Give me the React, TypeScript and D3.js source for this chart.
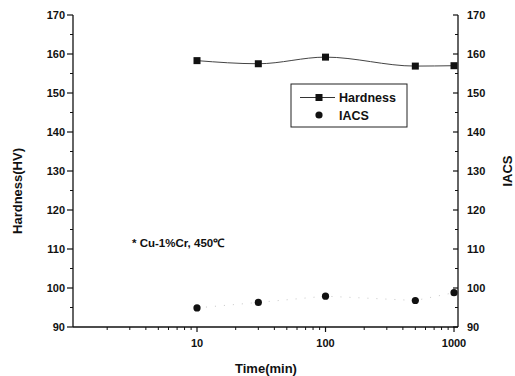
import { useEffect, useRef } from 'react';
import * as d3 from 'd3';

// time in minutes
const times = [10, 30, 100, 500, 1000];
const hardness = [158.3, 157.5, 159.2, 156.9, 157.0];
const iacs = [94.9, 96.3, 97.9, 96.8, 98.8];
const yTicks = [90, 100, 110, 120, 130, 140, 150, 160, 170];
const xTicks = [10, 100, 1000];
const legendItems = ['Hardness', 'IACS'];
const note = '* Cu-1%Cr, 450\u2103';

const FONT = 'Arial, "Liberation Sans", sans-serif';

export default function App() {
  const svgRef = useRef<SVGSVGElement>(null);
  const width = 515;
  const height = 376;

  useEffect(() => {
    if (!svgRef.current) return;
    const svg = d3.select(svgRef.current);
    svg.selectAll('*').remove();

    const left = 73;
    const right = 458;
    const top = 15;
    const bottom = 327;

    const x = d3.scaleLog().domain([1.084, 1074]).range([left, right]);
    const y = d3.scaleLinear().domain([90, 170]).range([bottom, top]);

    const g = svg.append('g');

    // minor ticks
    const minorX: number[] = [];
    [1, 10, 100].forEach((dec) => {
      for (let k = 2; k <= 9; k++) {
        const v = dec * k;
        if (v > x.domain()[0] && v < x.domain()[1]) minorX.push(v);
      }
    });
    const minorY = d3.range(95, 170, 10);

    // bottom axis
    g.append('line')
      .attr('x1', left).attr('x2', right)
      .attr('y1', bottom).attr('y2', bottom)
      .attr('stroke', '#111').attr('stroke-width', 1.3);
    g.selectAll('.xmin').data(minorX).enter().append('line')
      .attr('x1', (d) => x(d)).attr('x2', (d) => x(d))
      .attr('y1', bottom).attr('y2', bottom + 3)
      .attr('stroke', '#111');
    g.selectAll('.xmaj').data(xTicks).enter().append('line')
      .attr('x1', (d) => x(d)).attr('x2', (d) => x(d))
      .attr('y1', bottom).attr('y2', bottom + 5)
      .attr('stroke', '#111').attr('stroke-width', 1.2);
    g.selectAll('.xlab').data(xTicks).enter().append('text')
      .attr('x', (d) => x(d)).attr('y', bottom + 20)
      .attr('text-anchor', 'middle')
      .attr('font-family', FONT).attr('font-size', 11).attr('font-weight', 'bold')
      .attr('fill', '#111')
      .text((d) => String(d));

    // left axis
    g.append('line')
      .attr('x1', left).attr('x2', left)
      .attr('y1', top).attr('y2', bottom)
      .attr('stroke', '#111').attr('stroke-width', 1.3);
    g.selectAll('.lmin').data(minorY).enter().append('line')
      .attr('x1', left - 3).attr('x2', left)
      .attr('y1', (d) => y(d)).attr('y2', (d) => y(d))
      .attr('stroke', '#111');
    g.selectAll('.lmaj').data(yTicks).enter().append('line')
      .attr('x1', left - 6).attr('x2', left)
      .attr('y1', (d) => y(d)).attr('y2', (d) => y(d))
      .attr('stroke', '#111').attr('stroke-width', 1.2);
    g.selectAll('.llab').data(yTicks).enter().append('text')
      .attr('x', left - 8).attr('y', (d) => y(d) + 4)
      .attr('text-anchor', 'end')
      .attr('font-family', FONT).attr('font-size', 11).attr('font-weight', 'bold')
      .attr('fill', '#111')
      .text((d) => String(d));

    // right axis
    g.append('line')
      .attr('x1', right).attr('x2', right)
      .attr('y1', top).attr('y2', bottom)
      .attr('stroke', '#111').attr('stroke-width', 1.3);
    g.selectAll('.rmin').data(minorY).enter().append('line')
      .attr('x1', right - 3).attr('x2', right)
      .attr('y1', (d) => y(d)).attr('y2', (d) => y(d))
      .attr('stroke', '#111');
    g.selectAll('.rmaj').data(yTicks).enter().append('line')
      .attr('x1', right - 5).attr('x2', right)
      .attr('y1', (d) => y(d)).attr('y2', (d) => y(d))
      .attr('stroke', '#111').attr('stroke-width', 1.2);
    g.selectAll('.rlab').data(yTicks).enter().append('text')
      .attr('x', right + 9).attr('y', (d) => y(d) + 4)
      .attr('text-anchor', 'start')
      .attr('font-family', FONT).attr('font-size', 11).attr('font-weight', 'bold')
      .attr('fill', '#111')
      .text((d) => String(d));

    // axis titles
    g.append('text')
      .attr('transform', `translate(22,${(top + bottom) / 2 + 20}) rotate(-90)`)
      .attr('text-anchor', 'middle')
      .attr('font-family', FONT).attr('font-size', 13).attr('font-weight', 'bold')
      .attr('fill', '#111')
      .text('Hardness(HV)');
    g.append('text')
      .attr('transform', `translate(512,${(top + bottom) / 2}) rotate(-90)`)
      .attr('text-anchor', 'middle')
      .attr('font-family', FONT).attr('font-size', 13).attr('font-weight', 'bold')
      .attr('fill', '#111')
      .text('IACS');
    g.append('text')
      .attr('x', 266).attr('y', 373)
      .attr('text-anchor', 'middle')
      .attr('font-family', FONT).attr('font-size', 13).attr('font-weight', 'bold')
      .attr('fill', '#111')
      .text('Time(min)');

    // hardness line
    const pts: [number, number][] = times.map((t, i) => [x(t), y(hardness[i])]);
    const line = d3.line().curve(d3.curveMonotoneX);
    g.append('path')
      .attr('d', line(pts) || '')
      .attr('fill', 'none')
      .attr('stroke', '#444')
      .attr('stroke-width', 1);
    g.selectAll('.hpt').data(times).enter().append('rect')
      .attr('x', (d) => x(d) - 3.5)
      .attr('y', (d, i) => y(hardness[i]) - 3.5)
      .attr('width', 7).attr('height', 7)
      .attr('fill', '#111');

    // IACS faint connector
    const ipts: [number, number][] = times.map((t, i) => [x(t), y(iacs[i])]);
    g.append('path')
      .attr('d', d3.line()(ipts) || '')
      .attr('fill', 'none')
      .attr('stroke', '#c8c8c8')
      .attr('stroke-width', 1)
      .attr('stroke-dasharray', '1,8');
    g.selectAll('.ipt').data(times).enter().append('circle')
      .attr('cx', (d) => x(d))
      .attr('cy', (d, i) => y(iacs[i]))
      .attr('r', 3.6)
      .attr('fill', '#111');

    // legend
    const lg = g.append('g');
    lg.append('rect')
      .attr('x', 291).attr('y', 84).attr('width', 116).attr('height', 43)
      .attr('fill', 'white').attr('stroke', '#222').attr('stroke-width', 1);
    legendItems.forEach((name, i) => {
      const ly = 97.5 + i * 17.5;
      if (i === 0) {
        lg.append('line')
          .attr('x1', 300).attr('x2', 335).attr('y1', ly).attr('y2', ly)
          .attr('stroke', '#333').attr('stroke-width', 1);
        lg.append('rect')
          .attr('x', 319 - 3.5).attr('y', ly - 3.5).attr('width', 7).attr('height', 7)
          .attr('fill', '#111');
      } else {
        lg.append('circle').attr('cx', 319).attr('cy', ly).attr('r', 3.6).attr('fill', '#111');
      }
      lg.append('text')
        .attr('x', 339).attr('y', ly + 4.5)
        .attr('font-family', FONT).attr('font-size', 12.5).attr('font-weight', 'bold')
        .attr('fill', '#111')
        .text(name);
    });

    // annotation
    g.append('text')
      .attr('x', 132).attr('y', 247)
      .attr('font-family', FONT).attr('font-size', 11.5).attr('font-weight', 'bold')
      .attr('fill', '#111')
      .text(note);
  }, []);

  return (
    <svg
      ref={svgRef}
      width={width}
      height={height}
      style={{ position: 'absolute', left: 0, top: 0, background: 'white' }}
    />
  );
}
